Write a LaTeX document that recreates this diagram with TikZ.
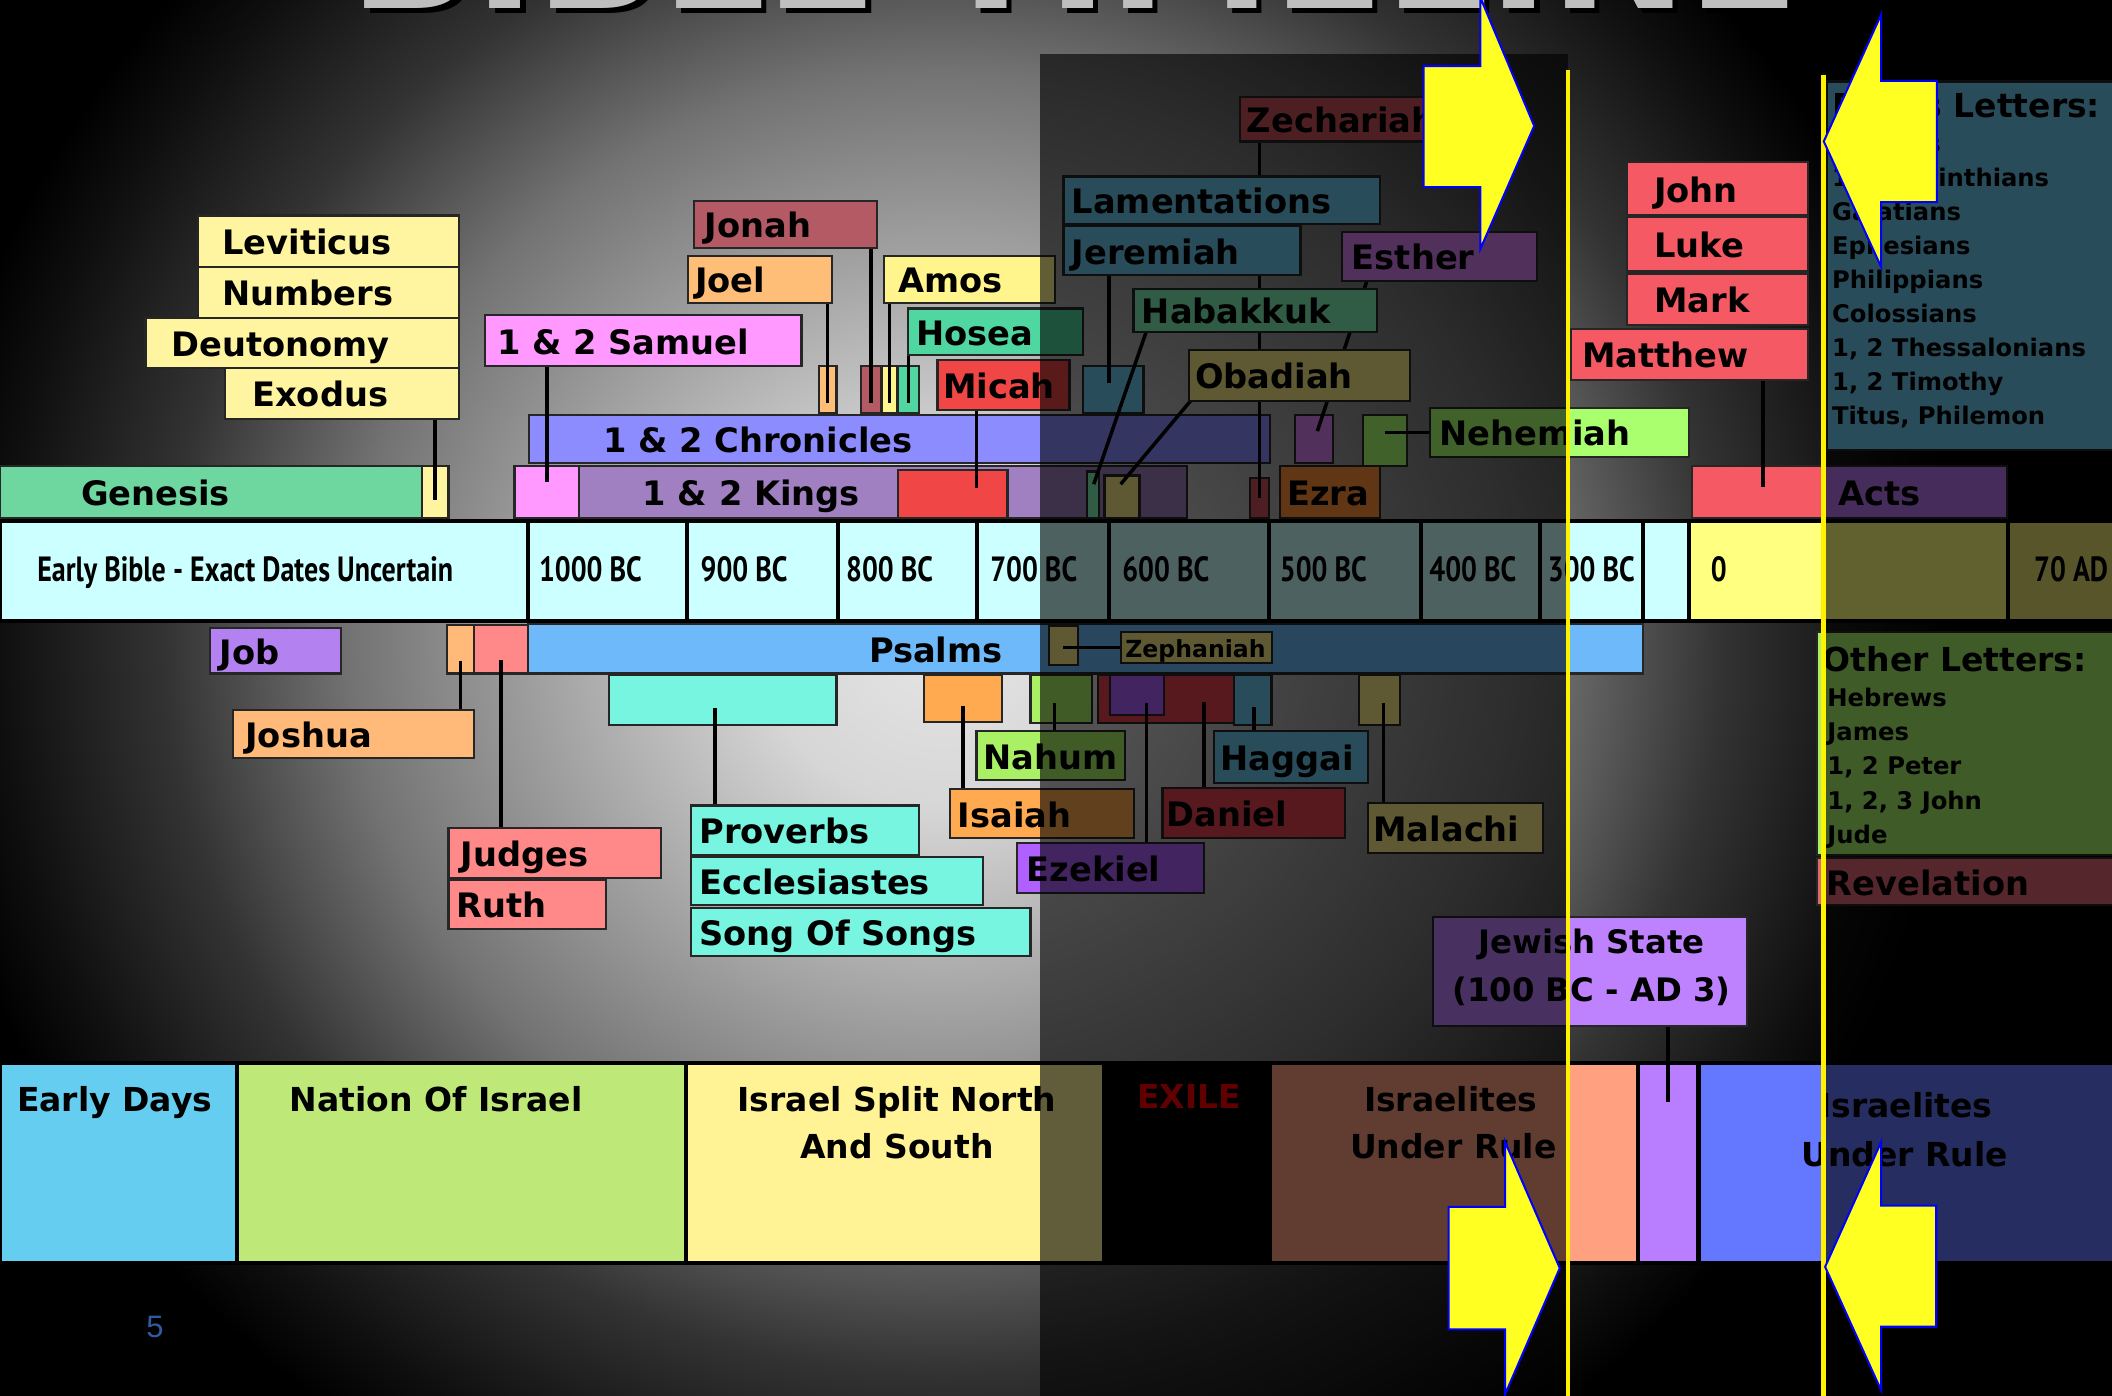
\documentclass[tikz,border=0pt]{standalone}
\usepackage{fontspec}
\setmainfont{DejaVu Sans}
\newfontfamily\dv{DejaVu Sans}
\newfontfamily\cnd{PT Sans}[FakeStretch=0.8]
\newfontfamily\lib{Liberation Sans}
\usetikzlibrary{calc}
\pgfdeclarelayer{bg}\pgfdeclarelayer{lines}\pgfdeclarelayer{fg}
\pgfsetlayers{bg,lines,main,fg}

\definecolor{sp0}{gray}{0.9}
\definecolor{sp1}{gray}{0.84}
\definecolor{sp2}{gray}{0.45}
\definecolor{sp3}{gray}{0.2}
\definecolor{sp4}{gray}{0.06}
\pgfdeclareradialshading{spot}{\pgfpoint{0bp}{0bp}}{color(0bp)=(sp0); color(4.5bp)=(sp1); color(14.5bp)=(sp2); color(19bp)=(sp3); color(23bp)=(sp4); color(25bp)=(black); color(50bp)=(black)}

\definecolor{cMint}{RGB}{110,215,160}
\definecolor{cYel}{RGB}{255,245,160}
\definecolor{cPink}{RGB}{255,153,255}
\definecolor{cKing}{RGB}{160,128,192}
\definecolor{cChron}{RGB}{140,140,255}
\definecolor{cJonah}{RGB}{180,90,100}
\definecolor{cJoel}{RGB}{255,190,120}
\definecolor{cAmos}{RGB}{255,245,140}
\definecolor{cHosea}{RGB}{80,214,160}
\definecolor{cRed}{RGB}{240,70,70}
\definecolor{cCyan}{RGB}{204,255,255}
\definecolor{cJob}{RGB}{180,130,240}
\definecolor{cOrange}{RGB}{255,185,120}
\definecolor{cSalmon}{RGB}{255,136,136}
\definecolor{cPsalm}{RGB}{110,185,250}
\definecolor{cAqua}{RGB}{120,245,225}
\definecolor{cIsa}{RGB}{255,170,80}
\definecolor{cNahum}{RGB}{170,240,100}
\definecolor{cEarly}{RGB}{100,205,240}
\definecolor{cNation}{RGB}{190,232,120}
\definecolor{cSplit}{RGB}{255,243,150}
\definecolor{cGospel}{RGB}{245,90,100}
\definecolor{cZero}{RGB}{255,255,128}
\definecolor{cSeventy}{RGB}{230,225,110}
\definecolor{cUnder}{RGB}{255,160,128}
\definecolor{cPurp}{RGB}{185,125,255}
\definecolor{cBlue}{RGB}{100,120,255}
\definecolor{cJewish}{RGB}{190,130,255}
\definecolor{cNeh}{RGB}{170,255,110}
\definecolor{cZech}{RGB}{205,80,92}
\definecolor{cTeal}{RGB}{108,200,238}
\definecolor{cEsther}{RGB}{215,128,240}
\definecolor{cEzek}{RGB}{176,96,255}
\definecolor{cHab}{RGB}{128,240,184}
\definecolor{cOlive}{RGB}{248,236,136}
\definecolor{cEzra}{RGB}{255,144,53}
\definecolor{cDaniel}{RGB}{232,68,80}
\definecolor{cOther}{RGB}{168,240,106}
\definecolor{cRev}{RGB}{224,105,118}
\definecolor{cActs}{RGB}{184,118,237}
\definecolor{cArrow}{RGB}{255,255,34}
\definecolor{cPage}{RGB}{50,90,160}

\newcommand\fLab{\dv\bfseries\fontsize{25}{25}\selectfont}
\newcommand\fCell{\cnd\bfseries\fontsize{26}{26}\selectfont}
\newcommand\fSmall{\dv\bfseries\fontsize{17.5}{17.5}\selectfont}
\newcommand\fHead{\dv\bfseries\fontsize{24.5}{24.5}\selectfont}
\newcommand\fItem{\dv\bfseries\fontsize{18}{18}\selectfont}
\newcommand\fBot{\dv\bfseries\fontsize{24.5}{24.5}\selectfont}
\newcommand\fTitle{\dv\bfseries\fontsize{122}{122}\selectfont}

\tikzset{
 bx/.style={draw=black!85, line width=1.6pt, inner sep=0pt, outer sep=0pt, rectangle},
 lt/.style={inner sep=0pt, font=\fLab, text height=20pt, text depth=0pt},
 ln/.style={draw=black, line width=2.6pt},
 cellbox/.style={draw=black, line width=3pt, inner sep=0pt, outer sep=0pt, rectangle},
 ct/.style={inner sep=0pt, font=\fCell, text height=16pt, text depth=0pt},
 bt/.style={inner sep=0pt, font=\fBot},
 arr/.style={fill=cArrow, draw=blue, line width=1.5pt, line join=miter},
 dimbox/.style={fill=black, opacity=0.62},
 yl/.style={draw=yellow, line width=3.5pt},
}

% label box: name, x1, y1, x2, y2, fill, left pad, text
\newcommand{\lab}[8]{%
 \pgfmathsetmacro{\bxw}{#4-#2}\pgfmathsetmacro{\bxh}{#5-#3}%
 \node[bx, fill=#6, minimum width=\bxw pt, minimum height=\bxh pt, anchor=north west] (#1) at (#2,#3) {};%
 \node[lt, anchor=west] (#1-t) at ([xshift=#7pt]#1.west) {#8};%
}
% plain block: name, x1, y1, x2, y2, fill
\newcommand{\blk}[6]{%
 \pgfmathsetmacro{\bxw}{#4-#2}\pgfmathsetmacro{\bxh}{#5-#3}%
 \node[bx, fill=#6, minimum width=\bxw pt, minimum height=\bxh pt, anchor=north west] (#1) at (#2,#3) {};%
}
% timeline cell: name, x1, x2, fill, pad, text
\newcommand{\tlcell}[6]{%
 \pgfmathsetmacro{\bxw}{#3-#2}%
 \node[cellbox, fill=#4, minimum width=\bxw pt, minimum height=74pt, anchor=north west] (#1) at (#2,387) {};%
 \node[ct, anchor=west] (#1-t) at ([xshift=#5pt]#1.west) {#6};%
}
% bottom row cell: name, x1, x2, fill
\newcommand{\botcell}[4]{%
 \pgfmathsetmacro{\bxw}{#3-#2}%
 \node[cellbox, fill=#4, minimum width=\bxw pt, minimum height=149pt, anchor=north west] (#1) at (#2,789) {};%
}

\begin{document}
\begin{tikzpicture}[x=1pt,y=-1pt]
\useasboundingbox (0,0) rectangle (1568,1035.7);

\begin{pgfonlayer}{bg}
\fill[black] (-3,-3) rectangle (1571,1040);
\begin{scope}
\clip (0,0) rectangle (1568,1035.7);
\shade[shading=spot] (700,470) ellipse [x radius=760pt, y radius=720pt];
\node[font=\fTitle, text=black, anchor=base, inner sep=0pt] (titleshadow) at (802,10) {BIBLE TIMELINE};
\node[font=\fTitle, text=gray!50, anchor=base, inner sep=0pt] (title) at (798,6) {BIBLE TIMELINE};
\end{scope}

% Genesis / Kings row
\lab{genesis}{0}{346}{313}{385}{cMint}{60}{Genesis}
\blk{gexo}{313}{346}{333}{385}{cYel}
\blk{samb}{382}{346}{430}{385}{cPink}
\lab{kings}{430}{346}{881}{385}{cKing}{47}{1 \& 2 Kings}
\blk{micahb}{667}{349}{748}{385}{cRed}
\blk{habb}{807}{350}{816}{385}{cHab}
\blk{obadb}{820}{353}{846}{385}{cOlive}
\blk{zechb}{928}{355}{942}{385}{cZech}
\lab{ezra}{950}{346}{1024.5}{385}{cEzra}{5.5}{Ezra}
\blk{gosp}{1256}{346}{1354}{385}{cGospel}
\lab{acts}{1354}{346}{1490}{385}{cActs}{11}{Acts}
% Chronicles row
\lab{chron}{393}{308}{943}{344}{cChron}{54.5}{1 \& 2 Chronicles}
\blk{joelk}{608}{272}{621}{307}{cJoel}
\blk{jonahk}{639}{272}{654}{307}{cJonah}
\blk{amosk}{655}{272}{666}{307}{cAmos}
\blk{hoseak}{667}{272}{682}{307}{cHosea}
\blk{lamb}{804}{272}{849}{307}{cTeal}
\blk{estb}{961.5}{308}{989.6}{343.5}{cEsther}
\blk{nehb}{1012}{308}{1044.4}{346}{cNeh}

% timeline
\tlcell{tEarly}{0}{392}{cCyan}{27.5}{Early Bible - Exact Dates Uncertain}
\tlcell{t1000}{392}{510}{cCyan}{8}{1000 BC}
\tlcell{t900}{510}{622}{cCyan}{10}{900 BC}
\tlcell{t800}{622}{725}{cCyan}{6}{800 BC}
\tlcell{t700}{725}{823}{cCyan}{10}{700 BC}
\tlcell{t600}{823}{942}{cCyan}{10}{600 BC}
\tlcell{t500}{942}{1055}{cCyan}{8}{500 BC}
\tlcell{t400}{1055}{1143}{cCyan}{6}{400 BC}
\tlcell{t300}{1143}{1220}{cCyan}{6}{300 BC}
\tlcell{tgap}{1220}{1254}{cCyan}{0}{}
\tlcell{t0}{1254}{1491}{cZero}{16}{0}
\tlcell{t70}{1491}{1580}{cSeventy}{19}{70 AD}

% Psalms row
\lab{job}{156}{466}{253}{500}{cJob}{7}{Job}
\blk{joshk}{332}{464}{352}{500}{cOrange}
\blk{judk}{352}{464}{392}{500}{cSalmon}
\lab{psalms}{392}{463}{1220}{500}{cPsalm}{253}{Psalms}
\blk{zephb}{778.5}{465}{800.3}{494}{cOlive}
% blocks below Psalms
\blk{provb}{452}{501}{621}{538}{cAqua}
\blk{isab}{686}{501}{744}{536}{cIsa}
\blk{nahb}{765}{501}{811}{537}{cNahum}
\blk{danb}{815}{501}{916}{537}{cDaniel}
\blk{ezkb}{824}{501}{864}{531}{cEzek}
\blk{hagb}{916}{501}{944}{538}{cTeal}
\blk{malb}{1009}{501}{1039.5}{538}{cOlive}

% bottom row
\botcell{bEarly}{0}{176}{cEarly}
\botcell{bNation}{176}{509.5}{cNation}
\botcell{bSplit}{509.5}{820}{cSplit}
\botcell{bExile}{820}{943}{black}
\botcell{bUnder}{943}{1216}{cUnder}
\botcell{bPurp}{1216}{1261}{cPurp}
\botcell{bBlue}{1261}{1580}{cBlue}
\end{pgfonlayer}

% ---------- label boxes ----------
\lab{lev}{147}{160}{341}{198}{cYel}{18}{Leviticus}
\lab{num}{147}{198}{341}{236}{cYel}{18}{Numbers}
\lab{deu}{108}{236}{341}{273}{cYel}{19}{Deutonomy}
\lab{exo}{167}{273}{341}{311}{cYel}{20}{Exodus}
\lab{jonah}{515}{149}{651}{184}{cJonah}{8}{Jonah}
\lab{joel}{511}{190}{618}{225}{cJoel}{5}{Joel}
\lab{amos}{656}{190}{783}{225}{cAmos}{11}{Amos}
\lab{hosea}{674}{229}{804}{263.5}{cHosea}{6}{Hosea}
\lab{micah}{696}{267}{794}{304.5}{cRed}{4}{Micah}
\lab{sam}{360}{234}{595}{272}{cPink}{9}{1 \& 2 Samuel}
\lab{zech}{920.5}{72}{1090}{105}{cZech}{5}{Zechariah}
\lab{lam}{789.5}{131}{1024.5}{166}{cTeal}{6}{Lamentations}
\lab{jer}{789.5}{168}{965.5}{204}{cTeal}{6}{Jeremiah}
\lab{est}{996.5}{172}{1141}{208.5}{cEsther}{7}{Esther}
\lab{hab}{841.5}{214.5}{1022}{246.5}{cHab}{6}{Habakkuk}
\lab{obad}{883}{260}{1047}{297.5}{cOlive}{4}{Obadiah}
\lab{neh}{1061.5}{303}{1254}{339}{cNeh}{7}{Nehemiah}
\lab{john}{1208}{120}{1342.5}{160}{cGospel}{20}{John}
\lab{luke}{1208}{161}{1342.5}{201}{cGospel}{20}{Luke}
\lab{mark}{1208}{203}{1342.5}{241}{cGospel}{20}{Mark}
\lab{matt}{1166.5}{244}{1342.5}{282}{cGospel}{8}{Matthew}

\blk{paul}{1356}{60.5}{1575}{334}{cTeal}
\node[anchor=base west, inner sep=0pt, font=\fHead] (paul-h) at ([xshift=4pt,yshift=-27pt]paul.north west) {Paul's Letters:};
\foreach \t [count=\i] in {Romans, {1, 2 Corinthians}, Galatians, Ephesians, Philippians, Colossians, {1, 2 Thessalonians}, {1, 2 Timothy}, {Titus, Philemon}} {
 \pgfmathsetmacro{\yy}{-52.4-25.3*(\i-1)}
 \node[anchor=base west, inner sep=0pt, font=\fItem] (paul-\i) at ([xshift=4pt,yshift=\yy pt]paul.north west) {\t};
}
\blk{other}{1349}{469}{1575}{635}{cOther}
\node[anchor=base west, inner sep=0pt, font=\fHead] (other-h) at ([xshift=4pt,yshift=-29.6pt]other.north west) {Other Letters:};
\foreach \t [count=\i] in {Hebrews, James, {1, 2 Peter}, {1, 2, 3 John}, Jude} {
 \pgfmathsetmacro{\yy}{-55.6-25.35*(\i-1)}
 \node[anchor=base west, inner sep=0pt, font=\fItem] (other-\i) at ([xshift=7.5pt,yshift=\yy pt]other.north west) {\t};
}
\lab{rev}{1349}{637}{1575}{672}{cRev}{7}{Revelation}

\lab{joshua}{173}{527}{352}{563}{cOrange}{9}{Joshua}
\lab{judges}{333}{615}{491}{652}{cSalmon}{9}{Judges}
\lab{ruth}{333}{653}{450}{690}{cSalmon}{6}{Ruth}
\lab{prov}{513}{598}{682}{635}{cAqua}{6}{Proverbs}
\lab{eccl}{513}{636}{730}{672}{cAqua}{6}{Ecclesiastes}
\lab{song}{513}{674}{765}{710}{cAqua}{6}{Song Of Songs}
\lab{isaiah}{705}{586}{842}{622}{cIsa}{6}{Isaiah}
\lab{nahum}{725}{543}{835}{579}{cNahum}{5}{Nahum}
\lab{haggai}{901}{543}{1015.5}{581}{cTeal}{5}{Haggai}
\lab{daniel}{863}{585}{998.5}{622}{cDaniel}{3}{Daniel}
\lab{malachi}{1015.5}{596}{1145.5}{633}{cOlive}{4}{Malachi}
\lab{ezekiel}{755}{626}{894}{663}{cEzek}{7}{Ezekiel}

\node[bx, fill=cOlive, minimum width=112pt, minimum height=23.5pt, anchor=north west] (zeph) at (832.3,469) {};
\node[inner sep=0pt, font=\fSmall, text height=14.5pt, text depth=0pt, anchor=west] (zeph-t) at ([xshift=3pt]zeph.west) {Zephaniah};

\node[bx, fill=cJewish, minimum width=233pt, minimum height=81pt, anchor=north west] (jewish) at (1064,681) {};
\node[bt, font=\dv\bfseries\fontsize{24}{24}\selectfont, anchor=base] (jewish-t1) at (1181.5,708) {Jewish State};
\node[bt, font=\dv\bfseries\fontsize{24}{24}\selectfont, anchor=base] (jewish-t2) at (1181.5,743.6) {(100 BC - AD 3)};

% bottom row texts
\node[bt, anchor=base west] (bEarly-t) at (12.5,825) {Early Days};
\node[bt, anchor=base west] (bNation-t) at (215,825) {Nation Of Israel};
\node[bt, anchor=base] (bSplit-t1) at (666,825) {Israel Split North};
\node[bt, anchor=base] (bSplit-t2) at (666,860) {And South};
\node[bt, anchor=base west, text=red] (bExile-t) at (844,823) {EXILE};
\node[bt, anchor=base] (bUnder-t1) at (1077,825) {Israelites};
\node[bt, anchor=base] (bUnder-t2) at (1079,860) {Under Rule};
\node[bt, anchor=base] (bBlue-t1) at (1415,830) {Israelites};
\node[bt, anchor=base] (bBlue-t2) at (1414,866) {Under Rule};

\node[inner sep=0pt, font=\lib\fontsize{23}{23}\selectfont, text=cPage, anchor=base] (pgno) at (115,993) {5};

% ---------- connectors ----------
\begin{pgfonlayer}{lines}
\coordinate (cGe) at ([yshift=-6pt]gexo.center);
\draw[ln] (cGe |- exo.south) -- (cGe);
\coordinate (cSa) at ([yshift=8pt]samb.center);
\draw[ln] (cSa |- sam.south) -- (cSa);
\coordinate (cJo) at ([yshift=-10pt]joelk.center);
\draw[ln] (cJo |- joel.south) -- (cJo);
\coordinate (cJn) at ([yshift=-10pt]jonahk.center);
\draw[ln] (cJn |- jonah.south) -- (cJn);
\coordinate (cAm) at ([yshift=-10pt]amosk.center);
\draw[ln] (cAm |- amos.south) -- (cAm);
\coordinate (cHo) at ([yshift=-10pt]hoseak.center);
\draw[ln] (cHo |- hosea.south) -- (cHo);
\coordinate (cMi) at ([xshift=17.5pt,yshift=5pt]micahb.center);
\draw[ln] (cMi |- micah.south) -- (cMi);
\coordinate (cJe) at ([xshift=-3pt,yshift=5.5pt]lamb.center);
\draw[ln] (cJe |- jer.south) -- (cJe);
\draw[ln] ([xshift=9.4pt]hab.south west) -- ([xshift=0.5pt,yshift=8pt]habb.center);
\draw[ln] ([xshift=1pt]obad.south west) -- ([xshift=-1pt,yshift=9.5pt]obadb.center);
\draw[ln] (zechb.center |- zech.south) -- (zechb.center);
\draw[ln] ([xshift=18.3pt]est.south west) -- ([xshift=2.5pt,yshift=5.7pt]estb.center);
\draw[ln] (neh.west) -- (nehb.center |- neh.west);
\coordinate (cMt) at ([xshift=4pt,yshift=4pt]gosp.center);
\draw[ln] (cMt |- matt.south) -- (cMt);
\coordinate (cJs) at ([yshift=-9pt]joshk.center);
\draw[ln] (cJs) -- (cJs |- joshua.north);
\coordinate (cJu) at ([yshift=-8pt]judk.center);
\draw[ln] (cJu) -- (cJu |- judges.north);
\coordinate (cPr) at ([xshift=-5.5pt,yshift=-6.5pt]provb.center);
\draw[ln] (cPr) -- (cPr |- prov.north);
\coordinate (cIs) at ([yshift=-5.5pt]isab.center);
\draw[ln] (cIs) -- (cIs |- isaiah.north);
\coordinate (cNa) at ([xshift=-5pt,yshift=-3pt]nahb.center);
\draw[ln] (cNa) -- (cNa |- nahum.north);
\coordinate (cEk) at ([xshift=7pt,yshift=-6pt]ezkb.center);
\draw[ln] (cEk) -- (cEk |- ezekiel.north);
\coordinate (cDa) at ([xshift=28.5pt,yshift=-2.5pt]danb.center);
\draw[ln] (cDa) -- (cDa |- daniel.north);
\coordinate (cHa) at ([xshift=1pt,yshift=-5.5pt]hagb.center);
\draw[ln] (cHa) -- (cHa |- haggai.north);
\coordinate (cMa) at ([xshift=2.75pt,yshift=-2.5pt]malb.center);
\draw[ln] (cMa) -- (cMa |- malachi.north);
\draw[ln] (zeph.west) -- (zephb.center |- zeph.west);
\coordinate (cJw) at ([yshift=45pt]bPurp.center);
\draw[ln] (cJw |- jewish.south) -- (cJw);
\end{pgfonlayer}

% ---------- overlays, markers ----------
\begin{pgfonlayer}{fg}
\begin{scope}
\clip (0,0) rectangle (1568,1035.7);
\fill[dimbox] (772,40) rectangle (1164,1040);
\fill[dimbox] (1354,-5) rectangle (1575,1040);
\draw[yl] (1164,52) -- (1164,1040);
\draw[yl] (1354,56) -- (1354,1040);
\draw[arr] (1057,49) -- (1099,49) -- (1099,-2) -- (1139,93.5) -- (1099,185) -- (1099,139) -- (1057,139) -- cycle;
\draw[arr] (1438,60) -- (1396.5,60) -- (1396.5,11) -- (1354,105) -- (1396.5,198) -- (1396.5,150) -- (1438,150) -- cycle;
\draw[arr] (1075.5,896) -- (1117.5,896) -- (1117.5,848) -- (1158,941.5) -- (1117.5,1035) -- (1117.5,987) -- (1075.5,987) -- cycle;
\draw[arr] (1437.5,895) -- (1396.5,895) -- (1396.5,848) -- (1355,940.5) -- (1396.5,1032) -- (1396.5,985) -- (1437.5,985) -- cycle;
\end{scope}
\end{pgfonlayer}
\end{tikzpicture}
\end{document}
